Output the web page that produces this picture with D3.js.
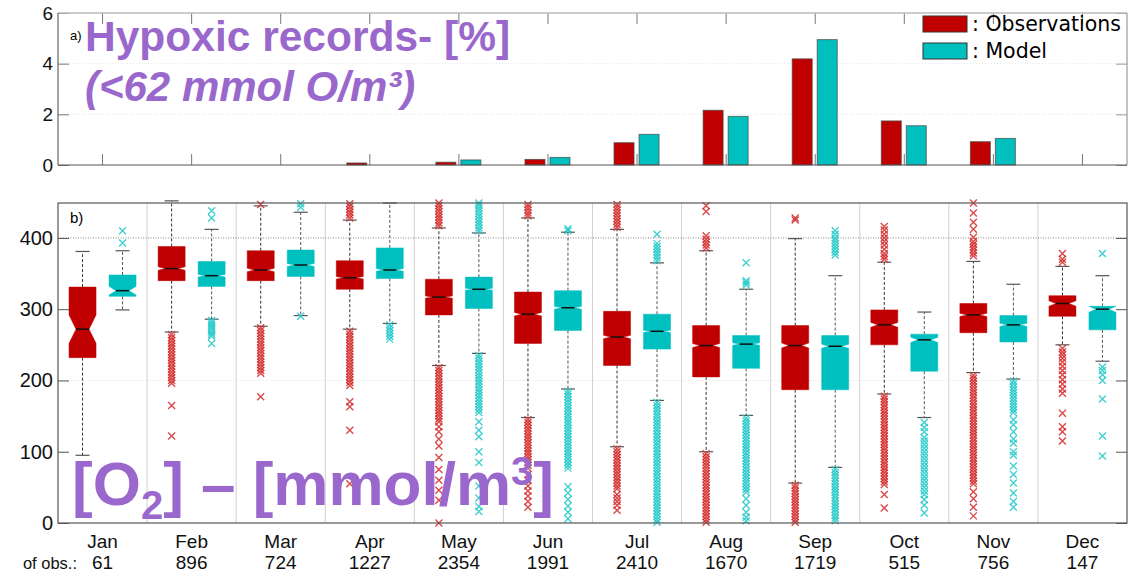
<!DOCTYPE html>
<html>
<head>
<meta charset="utf-8">
<script src="https://cdn.jsdelivr.net/npm/d3@7"></script>
<style>
body { margin: 0; background: #fff; }
svg { display: block; font-family: "Liberation Sans", Arial, sans-serif; }
</style>
</head>
<body>
<svg id="chart" width="1146" height="574"></svg>
<script>
// ---- data ----
const months = ["Jan", "Feb", "Mar", "Apr", "May", "Jun", "Jul", "Aug", "Sep", "Oct", "Nov", "Dec"];
const nObs = [61, 896, 724, 1227, 2354, 1991, 2410, 1670, 1719, 515, 756, 147];

// panel a: % of records below 62 mmol O2/m3
const hypoxObs = [0, 0, 0, 0.08, 0.11, 0.22, 0.88, 2.16, 4.19, 1.74, 0.92, 0];
const hypoxModel = [0, 0, 0, 0, 0.2, 0.3, 1.21, 1.92, 4.95, 1.55, 1.05, 0];

// panel b: [lower whisker, q1, median, q3, upper whisker]
const obsBox = [
  [95, 232, 272, 331, 381], [268, 340, 357, 388, 452], [276, 340, 355, 382, 445],
  [272, 328, 344, 368, 425], [221, 292, 317, 342, 414], [148, 252, 293, 324, 428],
  [107, 221, 261, 297, 412], [100, 205, 249, 277, 382], [56, 187, 249, 277, 399],
  [181, 250, 278, 299, 366], [211, 267, 292, 308, 367], [250, 290, 308, 319, 360]
];
const modelBox = [
  [299, 318, 326, 348, 382], [286, 332, 347, 367, 412], [291, 346, 362, 383, 436],
  [280, 343, 355, 386, 449], [238, 301, 328, 345, 407], [188, 270, 302, 326, 408],
  [172, 244, 269, 293, 365], [151, 217, 251, 263, 328], [78, 187, 248, 263, 347],
  [148, 213, 257, 265, 296], [202, 254, 278, 291, 335], [227, 271, 300, 304, 347]
];

const obsOut = [
  [],
  [264, 260, 256, 252, 248, 244, 240, 236, 232, 228, 224, 220, 216, 212, 208, 204, 200, 196, 165, 122],
  [447, 274, 270, 266, 262, 258, 254, 250, 246, 242, 238, 234, 230, 226, 222, 218, 214, 210, 177],
  [428, 432, 436, 440, 444, 448, 269, 265, 261, 257, 253, 249, 245, 241, 237, 233, 229, 225, 221, 217,
   213, 209, 205, 201, 197, 193, 170, 163, 130, 55],
  [417, 421, 425, 429, 433, 437, 441, 445, 449, 218, 214, 210, 206, 202, 198, 194, 190, 186, 182, 178,
   174, 170, 166, 162, 158, 154, 150, 146, 142, 135, 128, 118, 108, 92, 75, 60, 46, 32, 0],
  [431, 435, 439, 443, 447, 145, 141, 137, 133, 129, 125, 121, 117, 113, 109, 105, 101, 97, 93, 89,
   85, 81, 77, 68, 60, 52, 45, 38, 30, 22],
  [415, 419, 423, 427, 431, 435, 439, 443, 447, 104, 100, 96, 92, 88, 84, 80, 76, 72, 68, 64,
   60, 56, 52, 48, 40, 35, 30, 25, 18],
  [386, 390, 394, 398, 403, 437, 445, 97, 93, 89, 85, 81, 77, 73, 69, 65, 61, 57, 53, 49,
   45, 41, 37, 33, 29, 25, 21, 17, 13, 9, 5, 1],
  [425, 428, 53, 49, 45, 41, 37, 33, 29, 25, 21, 17, 13, 9, 5, 1],
  [370, 374, 378, 384, 390, 395, 400, 405, 411, 416, 178, 174, 170, 166, 162, 158, 154, 150, 146, 142,
   138, 134, 130, 126, 122, 118, 114, 110, 106, 102, 98, 94, 90, 86, 82, 78, 74, 70, 66, 62, 58, 54, 40, 21],
  [375, 379, 383, 387, 391, 395, 401, 412, 422, 435, 449, 207, 203, 199, 195, 191, 187, 183, 179, 175,
   171, 167, 163, 159, 155, 151, 147, 143, 139, 135, 131, 127, 123, 119, 115, 111, 107, 103, 99, 95,
   91, 87, 83, 79, 75, 71, 67, 63, 59, 55, 44, 34, 22, 10],
  [366, 370, 378, 245, 240, 236, 231, 226, 220, 214, 208, 201, 195, 188, 182, 154, 135, 128, 115]
];
const modelOut = [
  [393, 410],
  [438, 428, 284, 281, 278, 275, 272, 268, 265, 262, 252],
  [448, 443, 290],
  [278, 274, 270, 266, 262, 258],
  [410, 414, 418, 422, 426, 430, 434, 438, 442, 446, 449, 235, 231, 227, 223, 219, 215, 211, 207, 203,
   199, 195, 191, 187, 183, 179, 175, 171, 167, 163, 159, 155, 142, 130, 121, 100, 85, 52, 35, 23, 16],
  [410, 413, 185, 181, 177, 173, 169, 165, 161, 157, 153, 149, 145, 141, 137, 133, 129, 125, 121, 117,
   113, 109, 105, 101, 97, 93, 89, 85, 81, 77, 51, 42, 33, 24, 15, 6],
  [368, 372, 376, 380, 384, 388, 392, 405, 169, 165, 161, 157, 153, 149, 145, 141, 137, 133, 129, 125,
   121, 117, 113, 109, 105, 101, 97, 93, 89, 85, 81, 77, 73, 69, 65, 61, 57, 53, 49, 45,
   41, 37, 33, 29, 25, 21, 17, 13, 9, 5, 1],
  [334, 337, 340, 365, 147, 143, 139, 135, 131, 127, 123, 119, 115, 111, 107, 103, 99, 95, 91, 87,
   83, 79, 75, 71, 67, 63, 59, 55, 51, 47, 43, 34, 25, 15, 8, 3],
  [376, 380, 384, 388, 392, 396, 400, 405, 410, 75, 71, 67, 63, 59, 55, 51, 47, 43, 39, 35,
   31, 27, 23, 19, 15, 11, 7, 3],
  [141, 134, 128, 120, 115, 110, 105, 100, 95, 90, 85, 80, 75, 70, 65, 60, 55, 50, 45, 40, 33, 25, 14],
  [199, 195, 191, 187, 183, 179, 175, 171, 167, 163, 159, 155, 145, 138, 128, 118, 112, 100, 95, 80,
   68, 56, 42, 30, 22],
  [378, 219, 214, 208, 200, 174, 122, 94]
];

const obsColor = "#c00000";
const modelColor = "#00bfbf";
const purple = "#9a68cc";

// ---- layout ----
const svg = d3.select("#chart");
const left = 58, right = 1127;

const x = d3.scaleBand().domain(months).range([left, right]);
const bw = x.bandwidth();
const cx = m => x(m) + bw / 2;

// ================= panel a =================
const yA = d3.scaleLinear().domain([0, 6]).range([165, 13]);

// faint dotted grid
svg.append("g").selectAll("line")
  .data([2, 4])
  .join("line")
  .attr("x1", left).attr("x2", right)
  .attr("y1", d => yA(d)).attr("y2", d => yA(d))
  .attr("stroke", "#e2e2e2")
  .attr("stroke-dasharray", "1,2");

const barsA = svg.append("g");
barsA.selectAll(".obs")
  .data(months.map((m, i) => ({ m, v: hypoxObs[i] })).filter(d => d.v > 0))
  .join("rect")
  .attr("x", d => cx(d.m) - 23)
  .attr("width", 20)
  .attr("y", d => yA(d.v))
  .attr("height", d => yA(0) - yA(d.v))
  .attr("fill", obsColor)
  .attr("stroke", "#444")
  .attr("stroke-opacity", 0.7);
barsA.selectAll(".mod")
  .data(months.map((m, i) => ({ m, v: hypoxModel[i] })).filter(d => d.v > 0))
  .join("rect")
  .attr("x", d => cx(d.m) + 2)
  .attr("width", 20)
  .attr("y", d => yA(d.v))
  .attr("height", d => yA(0) - yA(d.v))
  .attr("fill", modelColor)
  .attr("stroke", "#444")
  .attr("stroke-opacity", 0.7);

// month ticks top and bottom (inward)
const ticksA = svg.append("g").attr("stroke", "#777");
months.forEach(m => {
  ticksA.append("line").attr("x1", cx(m)).attr("x2", cx(m)).attr("y1", 13).attr("y2", 24);
  ticksA.append("line").attr("x1", cx(m)).attr("x2", cx(m)).attr("y1", 154).attr("y2", 165);
});

const axA = svg.append("g")
  .attr("transform", `translate(${left},0)`)
  .call(d3.axisLeft(yA).tickValues([0, 2, 4, 6]).tickFormat(d3.format("d")).tickSize(-11).tickPadding(5));
axA.select(".domain").remove();
axA.selectAll(".tick line").attr("stroke", "#777");
axA.selectAll("text").attr("font-size", 19).attr("font-family", "Liberation Sans, Arial").attr("fill", "#111");

const axA2 = svg.append("g")
  .attr("transform", `translate(${right},0)`)
  .call(d3.axisRight(yA).tickValues([0, 2, 4, 6]).tickSize(-11).tickFormat(""));
axA2.select(".domain").remove();
axA2.selectAll(".tick line").attr("stroke", "#999");

// frame
svg.append("line").attr("x1", left).attr("x2", right).attr("y1", 13).attr("y2", 13).attr("stroke", "#bbb").attr("stroke-width", 1.5);
svg.append("line").attr("x1", right).attr("x2", right).attr("y1", 13).attr("y2", 165).attr("stroke", "#999").attr("stroke-width", 1.2);
svg.append("line").attr("x1", left).attr("x2", left).attr("y1", 13).attr("y2", 165).attr("stroke", "#666").attr("stroke-width", 1.2);
svg.append("line").attr("x1", left).attr("x2", right).attr("y1", 165).attr("y2", 165).attr("stroke", "#555").attr("stroke-width", 1.2);

svg.append("text").attr("x", 70).attr("y", 40).attr("font-size", 13).text("a)");

// legend
const legend = svg.append("g").attr("font-family", "DejaVu Sans, sans-serif").attr("font-size", 20.5);
[["Observations", obsColor, 16], ["Model", modelColor, 43]].forEach(([label, col, y0]) => {
  legend.append("rect").attr("x", 923).attr("y", y0).attr("width", 44).attr("height", 16)
    .attr("fill", col).attr("stroke", "#333");
  legend.append("text").attr("x", 972).attr("y", y0 + 15).text(": " + label);
});

// ================= panel b =================
const yB = d3.scaleLinear().domain([0, 449]).range([523, 203]);

const gridB = svg.append("g");
months.slice(1).forEach(m => {
  gridB.append("line").attr("x1", x(m)).attr("x2", x(m)).attr("y1", 203).attr("y2", 523)
    .attr("stroke", "#d0d0d0");
});
gridB.append("line").attr("x1", left).attr("x2", right).attr("y1", yB(400)).attr("y2", yB(400))
  .attr("stroke", "#888").attr("stroke-dasharray", "1,1.5");
gridB.append("line").attr("x1", left).attr("x2", right).attr("y1", yB(200)).attr("y2", yB(200))
  .attr("stroke", "#e4e4e4").attr("stroke-dasharray", "1,1.5");

svg.append("clipPath").attr("id", "clipB")
  .append("rect").attr("x", left).attr("y", 199).attr("width", right - left).attr("height", 328);

const plotB = svg.append("g").attr("clip-path", "url(#clipB)");

const cross = "M-3.5,-3.5L3.5,3.5M-3.5,3.5L3.5,-3.5";

function drawBoxes(stats, outs, offset, fill, outColor, whiskColor) {
  const g = plotB.append("g");
  months.forEach((m, i) => {
    const [wl, q1, med, q3, wh] = stats[i];
    const c = cx(m) + offset, hw = 13.5, ind = 7;
    const nh = 1.57 * (q3 - q1) / Math.sqrt(nObs[i]);
    const nLo = Math.max(q1, med - nh), nHi = Math.min(q3, med + nh);

    // whiskers
    [[q3, wh], [q1, wl]].forEach(([a, b]) => {
      g.append("line").attr("x1", c).attr("x2", c).attr("y1", yB(a)).attr("y2", yB(b))
        .attr("stroke", whiskColor).attr("stroke-dasharray", "3,2");
      g.append("line").attr("x1", c - 7).attr("x2", c + 7).attr("y1", yB(b)).attr("y2", yB(b))
        .attr("stroke", "#555").attr("stroke-width", 1.2);
    });

    // notched box
    const pts = [
      [c - hw, yB(q3)], [c + hw, yB(q3)], [c + hw, yB(nHi)], [c + hw - ind, yB(med)],
      [c + hw, yB(nLo)], [c + hw, yB(q1)], [c - hw, yB(q1)], [c - hw, yB(nLo)],
      [c - hw + ind, yB(med)], [c - hw, yB(nHi)]
    ];
    g.append("path").attr("d", d3.line()(pts) + "Z")
      .attr("fill", fill).attr("stroke", fill).attr("stroke-opacity", 0.5);
    g.append("line").attr("x1", c - hw + ind).attr("x2", c + hw - ind)
      .attr("y1", yB(med)).attr("y2", yB(med))
      .attr("stroke", "#111").attr("stroke-width", 1.5);

    // outliers
    g.selectAll(null).data(outs[i]).join("path")
      .attr("d", cross)
      .attr("transform", d => `translate(${c},${yB(d)})`)
      .attr("fill", "none")
      .attr("stroke", outColor)
      .attr("stroke-opacity", 0.85)
      .attr("stroke-width", 1.4);
  });
}

drawBoxes(obsBox, obsOut, -20, obsColor, "#d42a2a", "#333");
drawBoxes(modelBox, modelOut, 20, modelColor, "#22c8c8", "#555");

// frame b
svg.append("rect").attr("x", left).attr("y", 203).attr("width", right - left).attr("height", 320)
  .attr("fill", "none").attr("stroke", "#555").attr("stroke-width", 1.2);

const axB = svg.append("g")
  .attr("transform", `translate(${left},0)`)
  .call(d3.axisLeft(yB).tickValues([0, 100, 200, 300, 400]).tickSize(-11).tickPadding(5));
axB.select(".domain").remove();
axB.selectAll(".tick line").attr("stroke", "#555");
axB.selectAll("text").attr("font-size", 20).attr("font-family", "Liberation Sans, Arial").attr("fill", "#111");

const axB2 = svg.append("g")
  .attr("transform", `translate(${right},0)`)
  .call(d3.axisRight(yB).tickValues([0, 100, 200, 300, 400]).tickSize(-11).tickFormat(""));
axB2.select(".domain").remove();
axB2.selectAll(".tick line").attr("stroke", "#555");

svg.append("text").attr("x", 70).attr("y", 223).attr("font-size", 15).text("b)");

// month names and counts
const labels = svg.append("g").attr("font-size", 19).attr("text-anchor", "middle").attr("fill", "#111");
labels.selectAll(".mname").data(months).join("text")
  .attr("x", d => cx(d)).attr("y", 548).text(d => d);
labels.selectAll(".mcount").data(months).join("text")
  .attr("x", (d, i) => cx(months[i])).attr("y", 569).text((d, i) => nObs[i]);

svg.append("text")
  .attr("x", 77).attr("y", 569).attr("text-anchor", "end").attr("font-size", 16.5)
  .attr("fill", "#111").text("of obs.:");

// ================= overlaid annotations =================
svg.append("text").attr("x", 85).attr("y", 51).attr("font-size", 42.5).attr("font-weight", "bold")
  .attr("fill", purple).text("Hypoxic records- [%]");
svg.append("text").attr("x", 85).attr("y", 101).attr("font-size", 42).attr("font-weight", "bold")
  .attr("font-style", "italic").attr("fill", purple).text("(<62 mmol O/m³)");

const o2 = svg.append("text").attr("x", 72).attr("y", 505).attr("font-size", 62).attr("font-weight", "bold")
  .attr("fill", purple);
o2.append("tspan").text("[O");
o2.append("tspan").attr("font-size", 40).attr("dy", 14).text("2");
o2.append("tspan").attr("dy", -14).text("] – [mmol/m");
o2.append("tspan").attr("font-size", 40).attr("dy", -20).text("3");
o2.append("tspan").attr("dy", 20).text("]");
</script>
</body>
</html>
